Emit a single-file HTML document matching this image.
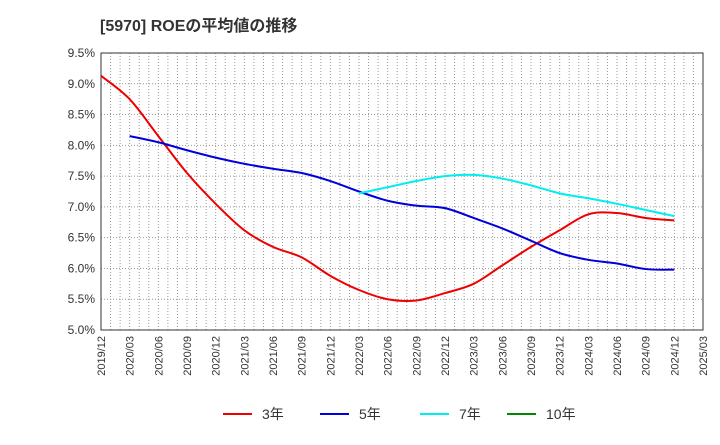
<!DOCTYPE html>
<html><head><meta charset="utf-8"><style>
body{margin:0;background:#fff;font-family:"Liberation Sans","Noto Sans CJK JP",sans-serif}
</style></head><body>
<svg id="c" width="720" height="440" xmlns="http://www.w3.org/2000/svg">
<text x="100" y="31" font-size="16" font-weight="bold" fill="#333" font-family="Liberation Sans,Noto Sans CJK JP,sans-serif">[5970]  ROEの平均値の推移</text>
<g id="grid"></g><g id="axes"></g><g id="series"></g><g id="legend"></g>
</svg>
<script>
const xLabels=["2019/12","2020/03","2020/06","2020/09","2020/12","2021/03","2021/06","2021/09","2021/12","2022/03","2022/06","2022/09","2022/12","2023/03","2023/06","2023/09","2023/12","2024/03","2024/06","2024/09","2024/12","2025/03"];
const yTicks=[5.0,5.5,6.0,6.5,7.0,7.5,8.0,8.5,9.0,9.5];
const roe3=[9.13,8.75,8.15,7.55,7.05,6.62,6.35,6.18,5.88,5.65,5.5,5.48,5.6,5.75,6.05,6.35,6.62,6.88,6.9,6.82,6.78];
const roe5=[null,8.15,8.05,7.92,7.8,7.7,7.62,7.55,7.42,7.25,7.1,7.02,6.98,6.82,6.65,6.45,6.25,6.14,6.08,5.99,5.98];
const roe7=[null,null,null,null,null,null,null,null,null,7.22,7.32,7.42,7.5,7.52,7.46,7.35,7.22,7.14,7.05,6.95,6.85];
const roe10=[];
const L=101,R=703,T=53,B=330,NS="http://www.w3.org/2000/svg";
const xs=i=>L+(R-L)*i/(xLabels.length-1);
const ys=v=>B-(v-5.0)/(9.5-5.0)*(B-T);
function mk(t,a,p){const e=document.createElementNS(NS,t);for(const k in a)e.setAttribute(k,a[k]);p.appendChild(e);return e;}
const grid=document.getElementById('grid'),axes=document.getElementById('axes'),ser=document.getElementById('series'),leg=document.getElementById('legend');
for(let m=1;m<(xLabels.length-1)*3;m++){const x=L+(R-L)*m/((xLabels.length-1)*3);
const g=mk('line',{x1:x,x2:x,y1:T,y2:B,stroke:'#999','stroke-dasharray':'1,2'},grid);

}
yTicks.forEach(v=>{const y=ys(v);
const g=mk('line',{x1:L,x2:R,y1:y,y2:y,stroke:'#999','stroke-dasharray':'1,2'},grid);


const t=mk('text',{x:L-6,y:y+4,'text-anchor':'end','font-size':12,fill:'#333'},axes);t.textContent=v.toFixed(1)+'%';

});
xLabels.forEach((s,i)=>{const x=xs(i);
const t=mk('text',{x:0,y:0,'text-anchor':'end','font-size':11,fill:'#333',transform:`translate(${x+4},${B+6}) rotate(-90)`},axes);t.textContent=s;

});
const fr=mk('rect',{x:L,y:T,width:R-L,height:B-T,fill:'none',stroke:'#333'},axes);


function path(arr){const p=[];arr.forEach((v,i)=>{if(v!=null)p.push([xs(i),ys(v)])});if(p.length<2)return '';
let d=`M${p[0][0]},${p[0][1]}`;for(let i=0;i<p.length-1;i++){const a=p[Math.max(0,i-1)],b=p[i],c=p[i+1],e=p[Math.min(p.length-1,i+2)];
d+=`C${b[0]+(c[0]-a[0])/6},${b[1]+(c[1]-a[1])/6} ${c[0]-(e[0]-b[0])/6},${c[1]-(e[1]-b[1])/6} ${c[0]},${c[1]}`;}return d;}
const S=[[roe3,'#ee0000','3年','line-3yr'],[roe5,'#0000dd','5年','line-5yr'],[roe7,'#00eeee','7年','line-7yr'],[roe10,'#008800','10年','line-10yr']];
S.forEach(([a,c,n,id])=>{const d=path(a);if(d){const e=mk('path',{d,fill:'none',stroke:c,'stroke-width':2},ser);

}});
const lx=[223,320,420,507];
S.forEach(([a,c,n,id],k)=>{const g=mk('g',{},leg);


mk('line',{x1:lx[k],x2:lx[k]+29,y1:414,y2:414,stroke:c,'stroke-width':2},g);
const t=mk('text',{x:lx[k]+39,y:419,'font-size':14,fill:'#333'},g);t.textContent=n;});
</script>
</body></html>
